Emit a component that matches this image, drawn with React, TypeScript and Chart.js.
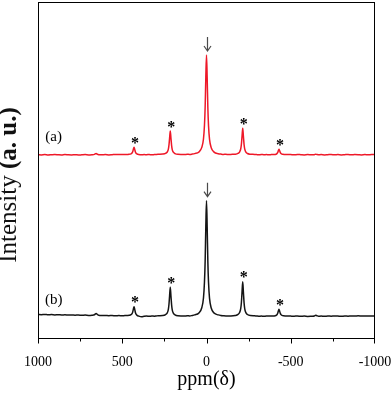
import { useEffect, useRef } from 'react';
import { Chart, registerables } from 'chart.js';

Chart.register(...registerables);

// Chemical shift grid (ppm) shared by both spectra
const ppm = [
  1000, 980, 960, 940, 920, 900, 880, 860, 840, 820, 800, 780, 760, 740, 720, 700, 680, 665, 655, 648, 640, 625, 600, 580, 560, 540, 520, 500,
  485, 470, 458, 448, 442, 438, 434, 430, 426, 422, 418, 412, 402, 385, 370,
  355, 340, 325, 310, 297,
  285, 260, 243, 233, 227, 223, 219, 215, 211, 207, 203, 197, 187, 170, 145,
  130, 115, 100, 85,
  70, 45, 28, 18, 12, 8, 4, 0, -4, -8, -12, -18, -28, -45, -70,
  -85, -100, -115, -130,
  -145, -170, -187, -197, -203, -207, -211, -215, -219, -223, -227, -233, -243, -260, -285,
  -297, -310, -325, -340, -355,
  -370, -385, -402, -412, -418, -422, -426, -430, -434, -438, -442, -448, -458, -470, -485,
  -500, -520, -540, -560, -580, -600, -625, -640, -648, -655, -665, -680, -700, -720, -740, -760, -780, -800, -820, -840, -860, -880, -900, -920, -940, -960, -980, -1000,
];

// Spectrum (a), red
const intensityA = [
  0.3, 0.1, 0.4, 0.0, 0.3, 0.5, 0.2, 0.0, 0.4, 0.2, 0.1, 0.3, 0.0, 0.2, 0.4, 0.1, 0.3, 0.6, 1.5, 0.8, 0.3, 0.2, 0.4, 0.1, 0.3, 0.5, 0.4, 0.6,
  0.6, 0.5, 0.8, 1.2, 2.0, 3.3, 5.8, 7.7, 5.6, 3.1, 1.8, 1.0, 0.5, 0.3, 0.4,
  0.3, 0.5, 0.2, 0.4, 0.6,
  0.7, 0.9, 1.6, 3.0, 5.4, 9.6, 17.0, 24.0, 16.8, 9.4, 5.2, 2.8, 1.4, 0.7, 0.6,
  0.5, 0.7, 0.6, 0.9,
  1.4, 3.0, 7.6, 16.0, 30.0, 48.0, 78.0, 100.0, 77.2, 47.4, 29.4, 15.6, 7.3, 2.9, 1.3,
  0.9, 0.6, 0.7, 0.5,
  0.6, 0.8, 1.6, 3.2, 6.0, 10.6, 18.9, 26.7, 18.7, 10.4, 5.9, 3.1, 1.5, 0.8, 0.6,
  0.4, 0.2, 0.5, 0.3, 0.4,
  0.3, 0.4, 0.5, 0.8, 1.4, 2.3, 4.1, 5.7, 4.2, 2.4, 1.5, 0.9, 0.6, 0.4, 0.5,
  0.4, 0.2, 0.5, 0.3, 0.1, 0.4, 0.2, 0.3, 0.8, 0.5, 0.2, 0.4, 0.1, 0.3, 0.5, 0.2, 0.4, 0.1, 0.3, 0.5, 0.2, 0.4, 0.3, 0.1, 0.4, 0.2, 0.5, 0.3,
];

// Spectrum (b), black
const intensityB = [
  2.0, 1.8, 2.1, 1.7, 1.9, 1.6, 1.8, 1.5, 1.7, 1.4, 1.6, 1.3, 1.5, 1.2, 1.4, 1.1, 1.3, 1.8, 3.0, 2.2, 1.2, 1.0, 1.1, 0.8, 1.0, 0.7, 0.9, 0.8,
  0.9, 1.0, 1.2, 1.8, 2.8, 4.4, 7.4, 9.8, 7.2, 4.0, 2.4, 1.1, 0.4, -0.2, 0.2,
  0.4, 0.2, 0.5, 0.3, 0.6,
  0.8, 1.0, 1.9, 3.6, 6.6, 11.7, 20.7, 29.2, 20.5, 11.5, 6.4, 3.4, 1.7, 0.7, 0.5,
  0.4, 0.7, 0.6, 1.0,
  1.6, 3.5, 8.8, 18.5, 34.7, 55.6, 90.3, 115.8, 89.5, 54.9, 34.2, 18.1, 8.5, 3.4, 1.6,
  1.0, 0.7, 0.5, 0.6,
  0.6, 1.0, 2.1, 4.2, 7.8, 13.8, 24.6, 34.8, 24.4, 13.6, 7.7, 4.1, 2.0, 0.9, 0.7,
  0.5, 0.3, 0.4, 0.2, 0.5,
  0.4, 0.5, 0.6, 1.0, 1.8, 3.0, 5.2, 7.2, 5.3, 3.1, 1.9, 1.1, 0.7, 0.6, 0.5,
  0.4, 0.3, 0.5, 0.2, 0.4, 0.1, 0.3, 0.5, 1.2, 0.8, 0.3, 0.4, 0.2, 0.5, 0.3, 0.6, 0.4, 0.2, 0.5, 0.3, 0.6, 0.4, 0.7, 0.5, 0.4, 0.6, 0.5, 0.6,
];

const stackOffsetA = 161.5;
const stackOffsetB = 0;
const yRange = [-21.5, 314.5];
const xMajorTicks = [1000, 500, 0, -500, -1000];
const xMinorTicks = [750, 250, -250, -750];
const sidebandPpm = [430, 215, -215, -430];
const centralPpm = 0;
const seriesLabels = ['(a)', '(b)'];
const seriesLabelPpm = 907;
const xTitle = 'ppm(δ)';
const yTitleMain = 'Intensity ';
const yTitleUnit = '(a. u.)';

const SERIF = '"Liberation Serif", "Times New Roman", serif';

export default function App() {
  const ref = useRef<HTMLCanvasElement>(null);

  useEffect(() => {
    if (!ref.current) return;
    const series = [
      { vals: intensityA, off: stackOffsetA, color: 'rgb(238, 24, 40)', label: seriesLabels[0], rise: 18 },
      { vals: intensityB, off: stackOffsetB, color: '#141414', label: seriesLabels[1], rise: 16 },
    ];

    const annot = {
      id: 'annot',
      afterDraw(chart: any) {
        const { ctx, chartArea: ca, scales } = chart;
        const xs = scales.x;
        const ys = scales.y;
        ctx.save();
        // frame
        ctx.strokeStyle = '#000';
        ctx.lineWidth = 1;
        ctx.strokeRect(ca.left + 0.5, ca.top + 0.5, ca.right - ca.left - 1, ca.bottom - ca.top);
        // ticks (outward)
        const all = [...xMajorTicks.map((v) => [v, 5]), ...xMinorTicks.map((v) => [v, 3])];
        ctx.beginPath();
        for (const [v, len] of all) {
          let x = Math.round(xs.getPixelForValue(v)) + 0.5;
          if (x > ca.right) x = ca.right - 0.5;
          ctx.moveTo(x, ca.bottom);
          ctx.lineTo(x, ca.bottom + 0.5 + len);
        }
        ctx.stroke();

        for (const s of series) {
          // asterisks on spinning sidebands
          ctx.fillStyle = '#000';
          ctx.font = `bold 16px ${SERIF}`;
          ctx.textAlign = 'center';
          ctx.textBaseline = 'alphabetic';
          for (const c of sidebandPpm) {
            const i = ppm.indexOf(c);
            const px = xs.getPixelForValue(c) + 1;
            const py = ys.getPixelForValue(s.vals[i] + s.off) - 7;
            ctx.fillText('*', px, py + 0.47 * 16);
          }
          // arrow above central peak
          const i0 = ppm.indexOf(centralPpm);
          const ax = Math.round(xs.getPixelForValue(centralPpm)) + 0.5;
          const tip = ys.getPixelForValue(s.vals[i0] + s.off) - 4;
          ctx.strokeStyle = '#4a4a4a';
          ctx.lineWidth = 1.2;
          ctx.beginPath();
          ctx.moveTo(ax, tip - 14);
          ctx.lineTo(ax, tip);
          ctx.moveTo(ax - 3.5, tip - 5);
          ctx.lineTo(ax, tip);
          ctx.lineTo(ax + 3.5, tip - 5);
          ctx.stroke();
          // series label
          ctx.fillStyle = '#000';
          ctx.font = `15px ${SERIF}`;
          ctx.textBaseline = 'middle';
          ctx.fillText(s.label, xs.getPixelForValue(seriesLabelPpm), ys.getPixelForValue(s.off) - s.rise);
        }

        // y title
        ctx.translate(15.5, 185);
        ctx.rotate(-Math.PI / 2);
        ctx.textBaseline = 'alphabetic';
        ctx.textAlign = 'left';
        ctx.font = `25px ${SERIF}`;
        const w1 = ctx.measureText(yTitleMain).width;
        ctx.font = `bold 25px ${SERIF}`;
        const w2 = ctx.measureText(yTitleUnit).width;
        const start = -(w1 + w2) / 2;
        ctx.fillStyle = '#111';
        ctx.font = `25px ${SERIF}`;
        ctx.fillText(yTitleMain, start, 0);
        ctx.font = `bold 25px ${SERIF}`;
        ctx.fillText(yTitleUnit, start + w1, 0);
        ctx.restore();
      },
    };

    const chart = new Chart(ref.current, {
      type: 'line',
      data: {
        datasets: series.map((s) => ({
          data: ppm.map((x, i) => ({ x, y: s.vals[i] + s.off })),
          borderColor: s.color,
          borderWidth: 1.5,
          pointRadius: 0,
          fill: false,
          cubicInterpolationMode: 'monotone' as const,
        })),
      },
      options: {
        animation: false,
        responsive: true,
        maintainAspectRatio: false,
        layout: { padding: { top: 2, right: 17, left: 0, bottom: 0 } },
        plugins: { legend: { display: false }, tooltip: { enabled: false } },
        scales: {
          x: {
            type: 'linear',
            reverse: true,
            min: -1000,
            max: 1000,
            afterFit: (s: any) => {
              s.height = 57;
              s.paddingLeft = 0;
              s.paddingRight = 0;
            },
            afterBuildTicks: (s: any) => {
              s.ticks = xMajorTicks.map((v) => ({ value: v }));
            },
            grid: { display: false },
            border: { display: false },
            ticks: {
              padding: 8,
              color: '#000',
              font: { family: SERIF, size: 14 },
              maxRotation: 0,
              autoSkip: false,
              callback: (v: any) => String(v),
            },
            title: {
              display: true,
              text: xTitle,
              color: '#000',
              font: { family: SERIF, size: 20 },
              padding: { top: 0, bottom: 3 },
            },
          },
          y: {
            min: yRange[0],
            max: yRange[1],
            afterFit: (s: any) => {
              s.width = 38;
            },
            grid: { display: false },
            border: { display: false },
            ticks: { display: false },
          },
        },
      },
      plugins: [annot],
    });
    return () => chart.destroy();
  }, []);

  return (
    <div style={{ position: 'absolute', left: 0, top: 0, width: 392, height: 395, background: '#fff' }}>
      <canvas ref={ref} />
    </div>
  );
}
